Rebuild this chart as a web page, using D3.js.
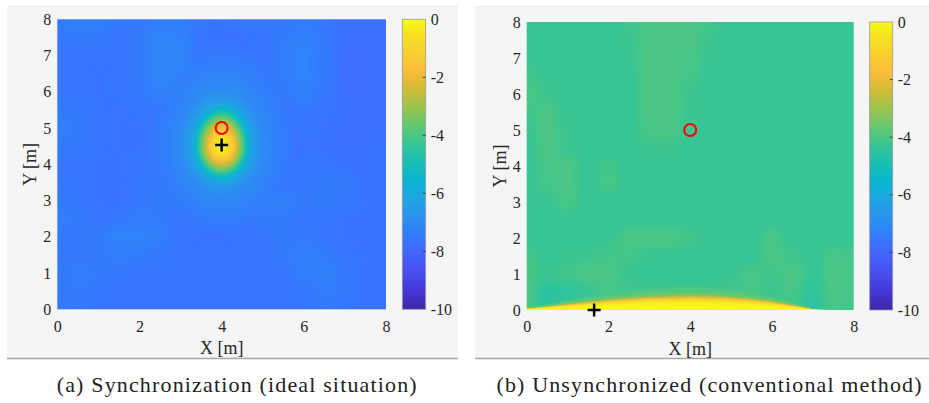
<!DOCTYPE html>
<html>
<head>
<meta charset="utf-8">
<script src="https://cdn.jsdelivr.net/npm/d3@7"></script>
<style>
body { margin: 0; background: #fff; }
</style>
</head>
<body>
<script>
// ---- data ----
var xTicks = [0, 2, 4, 6, 8];
var yTicks = [0, 1, 2, 3, 4, 5, 6, 7, 8];
var cbTicks = [0, -2, -4, -6, -8, -10];

// grid nodes every 0.5 m, rows listed from y = 8 (top) down to y = 0
var gridX = [0, 0.5, 1, 1.5, 2, 2.5, 3, 3.5, 4, 4.5, 5, 5.5, 6, 6.5, 7, 7.5, 8];
var gridY = [8, 7.5, 7, 6.5, 6, 5.5, 5, 4.5, 4, 3.5, 3, 2.5, 2, 1.5, 1, 0.5, 0];

// (a) synchronized: background level
var syncGrid = [
  [-7.5, -7.3, -7.3, -7.5, -7.55, -7.4, -7.4, -7.6, -7.65, -7.6, -7.6, -7.6, -7.5, -7.6, -7.7, -7.75, -7.7],
  [-7.55, -7.45, -7.5, -7.6, -7.45, -7.25, -7.3, -7.6, -7.65, -7.65, -7.6, -7.45, -7.3, -7.5, -7.7, -7.75, -7.7],
  [-7.6, -7.6, -7.6, -7.6, -7.45, -7.2, -7.25, -7.55, -7.6, -7.65, -7.6, -7.4, -7.25, -7.5, -7.75, -7.75, -7.7],
  [-7.6, -7.6, -7.65, -7.6, -7.45, -7.2, -7.3, -7.5, -7.5, -7.6, -7.6, -7.4, -7.25, -7.5, -7.75, -7.75, -7.7],
  [-7.55, -7.6, -7.65, -7.6, -7.5, -7.3, -7.45, -7.55, -7.55, -7.6, -7.6, -7.5, -7.35, -7.55, -7.75, -7.75, -7.7],
  [-7.45, -7.55, -7.6, -7.65, -7.6, -7.55, -7.6, -7.6, -7.6, -7.6, -7.65, -7.6, -7.55, -7.6, -7.7, -7.75, -7.7],
  [-7.35, -7.45, -7.6, -7.65, -7.65, -7.65, -7.6, -7.6, -7.6, -7.6, -7.65, -7.65, -7.6, -7.65, -7.7, -7.7, -7.7],
  [-7.45, -7.55, -7.6, -7.65, -7.65, -7.6, -7.6, -7.6, -7.6, -7.6, -7.6, -7.65, -7.65, -7.65, -7.7, -7.7, -7.65],
  [-7.55, -7.6, -7.65, -7.65, -7.6, -7.6, -7.6, -7.6, -7.6, -7.6, -7.6, -7.65, -7.6, -7.6, -7.65, -7.7, -7.65],
  [-7.55, -7.6, -7.65, -7.65, -7.55, -7.5, -7.55, -7.6, -7.6, -7.6, -7.6, -7.6, -7.55, -7.45, -7.5, -7.65, -7.65],
  [-7.45, -7.55, -7.65, -7.65, -7.55, -7.45, -7.55, -7.6, -7.65, -7.6, -7.3, -7.35, -7.5, -7.45, -7.55, -7.65, -7.65],
  [-7.35, -7.5, -7.6, -7.55, -7.4, -7.45, -7.6, -7.65, -7.65, -7.6, -7.45, -7.5, -7.6, -7.6, -7.65, -7.65, -7.65],
  [-7.5, -7.55, -7.45, -7.25, -7.25, -7.4, -7.6, -7.65, -7.65, -7.6, -7.6, -7.45, -7.5, -7.6, -7.65, -7.65, -7.65],
  [-7.55, -7.55, -7.5, -7.4, -7.45, -7.55, -7.6, -7.6, -7.6, -7.6, -7.6, -7.5, -7.3, -7.45, -7.6, -7.65, -7.65],
  [-7.55, -7.4, -7.45, -7.55, -7.6, -7.6, -7.6, -7.6, -7.6, -7.6, -7.6, -7.6, -7.4, -7.3, -7.55, -7.65, -7.65],
  [-7.5, -7.45, -7.55, -7.6, -7.6, -7.6, -7.6, -7.6, -7.6, -7.6, -7.6, -7.6, -7.55, -7.4, -7.5, -7.65, -7.65],
  [-7.55, -7.55, -7.6, -7.6, -7.6, -7.6, -7.6, -7.6, -7.6, -7.6, -7.6, -7.6, -7.6, -7.55, -7.6, -7.65, -7.65]
];
// (a) main lobe: centre, radii (x, y up, y down) and level against scaled distance
var syncPeakCenter = [4, 4.5];
var syncPeakRadius = [1.0, 1.6, 1.35];
var syncPeakDist = [0, 0.1, 0.2, 0.28, 0.36, 0.44, 0.52, 0.6, 0.68, 0.8, 1.0, 1.3, 1.7, 2.2];
var syncPeakLevel = [0, -0.3, -0.8, -1.5, -2.3, -3.1, -4.0, -5.0, -5.9, -6.5, -7.0, -7.3, -7.55, -8];

// (b) unsynchronized: background level
var unsyncGrid = [
  [-4.3, -4.3, -4.3, -4.3, -4.3, -4.15, -4.0, -4.0, -4.0, -4.15, -4.3, -4.3, -4.3, -4.3, -4.3, -4.3, -4.3],
  [-4.3, -4.3, -4.3, -4.3, -4.3, -4.2, -4.0, -4.0, -4.0, -4.2, -4.3, -4.3, -4.3, -4.3, -4.3, -4.3, -4.3],
  [-4.3, -4.3, -4.3, -4.3, -4.3, -4.25, -4.0, -4.0, -4.05, -4.25, -4.3, -4.3, -4.3, -4.3, -4.3, -4.3, -4.3],
  [-4.1, -4.25, -4.3, -4.3, -4.3, -4.3, -4.0, -4.0, -4.1, -4.3, -4.3, -4.3, -4.3, -4.3, -4.3, -4.3, -4.3],
  [-4.0, -4.2, -4.3, -4.3, -4.3, -4.3, -4.0, -4.0, -4.2, -4.3, -4.3, -4.3, -4.3, -4.3, -4.3, -4.3, -4.3],
  [-4.15, -4.0, -4.25, -4.3, -4.3, -4.3, -4.0, -4.0, -4.2, -4.3, -4.3, -4.3, -4.3, -4.3, -4.3, -4.3, -4.3],
  [-4.25, -4.0, -4.2, -4.3, -4.3, -4.3, -4.05, -4.0, -4.25, -4.3, -4.3, -4.3, -4.3, -4.3, -4.3, -4.3, -4.3],
  [-4.3, -4.0, -4.2, -4.3, -4.3, -4.3, -4.2, -4.2, -4.3, -4.3, -4.3, -4.3, -4.3, -4.3, -4.3, -4.3, -4.3],
  [-4.3, -4.05, -4.0, -4.3, -4.1, -4.3, -4.3, -4.3, -4.3, -4.3, -4.3, -4.3, -4.3, -4.3, -4.3, -4.3, -4.3],
  [-4.3, -4.1, -4.0, -4.3, -4.05, -4.3, -4.3, -4.3, -4.3, -4.3, -4.3, -4.3, -4.3, -4.3, -4.3, -4.3, -4.3],
  [-4.3, -4.25, -4.05, -4.3, -4.3, -4.3, -4.3, -4.3, -4.3, -4.3, -4.3, -4.3, -4.3, -4.3, -4.3, -4.3, -4.3],
  [-4.3, -4.3, -4.3, -4.3, -4.3, -4.3, -4.3, -4.3, -4.3, -4.3, -4.3, -4.3, -4.3, -4.3, -4.3, -4.3, -4.3],
  [-4.3, -4.3, -4.3, -4.3, -4.25, -4.0, -4.0, -4.0, -4.1, -4.3, -4.3, -4.3, -4.05, -4.3, -4.3, -4.3, -4.3],
  [-4.1, -4.3, -4.25, -4.2, -4.1, -4.1, -4.25, -4.3, -4.3, -4.3, -4.3, -4.3, -4.0, -4.15, -4.3, -4.05, -4.1],
  [-4.05, -4.25, -4.1, -4.0, -4.0, -4.25, -4.3, -4.3, -4.3, -4.3, -4.25, -4.05, -4.15, -4.0, -4.3, -4.0, -4.05],
  [-4.0, -4.55, -4.45, -4.3, -4.05, -4.15, -4.2, -4.2, -4.2, -4.2, -4.15, -4.05, -4.2, -4.05, -4.45, -4.0, -4.1],
  [-4.05, -4.45, -4.4, -4.3, -4.3, -4.3, -4.3, -4.3, -4.3, -4.3, -4.3, -4.3, -4.3, -4.25, -4.5, -4.05, -4.15]
];
// (b) bright arc along y = 0: height of the arc at each x, level against y / height
var unsyncArcX = [0, 0.5, 1, 1.5, 2, 2.5, 3, 3.5, 4, 4.5, 5, 5.5, 6, 6.5, 7, 7.5, 8];
var unsyncArcHeight = [0.05, 0.11, 0.18, 0.25, 0.31, 0.36, 0.4, 0.42, 0.43, 0.42, 0.39, 0.34, 0.26, 0.15, 0.03, 0, 0];
var unsyncArcT = [0, 0.45, 0.6, 0.72, 0.82, 0.9, 1.0, 1.2, 1.5, 1.8];
var unsyncArcLevel = [0, -0.15, -0.6, -1.3, -2.1, -2.9, -3.5, -3.85, -4.1, -10];

var truePos = [4, 5];
var syncEstimate = [4, 4.53];
var unsyncEstimate = [1.65, 0];

// parula anchors (value on colour axis, rgb)
var parulaValues = [-10, -9.365, -8.73, -8.095, -7.778, -7.46, -6.825, -6.19, -5.556, -4.921, -4.286, -3.651, -3.016, -2.381, -1.746, -1.111, -0.476, 0];
var parulaColors = [
  [0.2422, 0.1504, 0.6603], [0.2706, 0.2147, 0.8364], [0.2813, 0.3006, 0.9414], [0.2699, 0.3892, 0.9906],
  [0.2440, 0.4358, 0.9988], [0.1963, 0.4847, 0.9892], [0.1687, 0.5703, 0.9359], [0.1248, 0.6459, 0.8883],
  [0.0297, 0.7082, 0.8163], [0.0964, 0.7461, 0.7113], [0.2161, 0.7722, 0.5848], [0.3909, 0.7843, 0.4409],
  [0.6174, 0.7641, 0.3004], [0.8203, 0.7367, 0.2041], [0.9900, 0.7400, 0.2400], [0.9700, 0.8200, 0.1800],
  [0.9600, 0.8900, 0.1300], [0.9769, 0.9839, 0.0805]
].map(function(c) { return d3.rgb(c[0] * 255, c[1] * 255, c[2] * 255).toString(); });

var serif = '"Liberation Serif", "Times New Roman", Times, serif';

var color = d3.scaleLinear()
  .domain(parulaValues)
  .range(parulaColors)
  .interpolate(d3.interpolateRgb)
  .clamp(true);

// lookup table so the per-pixel loop stays cheap
var lut = d3.range(0, 1001).map(function(i) { return d3.rgb(color(-10 + i / 100)); });

var svg = d3.select('body').append('svg')
  .attr('width', 929)
  .attr('height', 403)
  .attr('font-family', serif);

function smooth(t) { return t * t * (3 - 2 * t); }

function gridValue(grid, x, y) {
  var c = Math.max(0, Math.min(gridX.length - 1.0001, x / 0.5));
  var r = Math.max(0, Math.min(gridY.length - 1.0001, (8 - y) / 0.5));
  var c0 = Math.floor(c), r0 = Math.floor(r);
  var fx = smooth(c - c0), fy = smooth(r - r0);
  var top = grid[r0][c0] * (1 - fx) + grid[r0][c0 + 1] * fx;
  var bot = grid[r0 + 1][c0] * (1 - fx) + grid[r0 + 1][c0 + 1] * fx;
  return top * (1 - fy) + bot * fy;
}

var peakLevel = d3.scaleLinear().domain(syncPeakDist).range(syncPeakLevel).clamp(true);
function syncField(x, y) {
  var dx = (x - syncPeakCenter[0]) / syncPeakRadius[0];
  var dy = (y - syncPeakCenter[1]) / (y > syncPeakCenter[1] ? syncPeakRadius[1] : syncPeakRadius[2]);
  return Math.max(gridValue(syncGrid, x, y), peakLevel(Math.sqrt(dx * dx + dy * dy)));
}

var arcHeight = d3.scaleLinear().domain(unsyncArcX).range(unsyncArcHeight).clamp(true);
var arcLevel = d3.scaleLinear().domain(unsyncArcT).range(unsyncArcLevel).clamp(true);
function unsyncField(x, y) {
  var h = arcHeight(x);
  var bg = gridValue(unsyncGrid, x, y);
  if (h < 0.005) return bg;
  return Math.max(bg, arcLevel(y / h));
}

var panels = [
  {bg: [7, 5, 458, 358.5], plot: [57.3, 19.3, 386, 309.3], cb: [402.3, 425.7],
   field: syncField, est: syncEstimate,
   caption: '(a) Synchronization (ideal situation)', capX: 236.7, capW: 360},
  {bg: [475, 5, 929, 358.5], plot: [526.7, 22, 853.7, 310], cb: [869.7, 892.7],
   field: unsyncField, est: unsyncEstimate,
   caption: '(b) Unsynchronized (conventional method)', capX: 709, capW: 425}
];

function styleAxisText(a) {
  a.attr('font-family', serif).attr('font-size', 16);
  a.select('.domain').remove();
  a.selectAll('text')
    .attr('fill', '#262626')
    .style('font-family', serif)
    .style('font-size', '16px');
}

panels.forEach(function(p) {
  var g = svg.append('g');

  g.append('rect')
    .attr('x', p.bg[0]).attr('y', p.bg[1])
    .attr('width', p.bg[2] - p.bg[0]).attr('height', p.bg[3] - p.bg[1])
    .attr('fill', '#f5f5f5');
  g.append('line')
    .attr('x1', p.bg[0]).attr('x2', p.bg[2])
    .attr('y1', p.bg[3]).attr('y2', p.bg[3])
    .attr('stroke', '#a8a8a2').attr('stroke-width', 1.5);

  var x = d3.scaleLinear().domain([0, 8]).range([p.plot[0], p.plot[2]]);
  var y = d3.scaleLinear().domain([0, 8]).range([p.plot[3], p.plot[1]]);

  // heat map, one canvas pixel per screen pixel
  var w = Math.round(p.plot[2] - p.plot[0]);
  var h = Math.round(p.plot[3] - p.plot[1]);
  var canvas = document.createElement('canvas');
  canvas.width = w; canvas.height = h;
  var ctx = canvas.getContext('2d');
  var img = ctx.createImageData(w, h);
  for (var j = 0; j < h; j++) {
    var ym = y.invert(p.plot[1] + (j + 0.5) * (p.plot[3] - p.plot[1]) / h);
    for (var i = 0; i < w; i++) {
      var xm = x.invert(p.plot[0] + (i + 0.5) * (p.plot[2] - p.plot[0]) / w);
      var v = p.field(xm, ym);
      var c = lut[Math.max(0, Math.min(1000, Math.round((v + 10) * 100)))];
      var k = (j * w + i) * 4;
      img.data[k] = c.r; img.data[k + 1] = c.g; img.data[k + 2] = c.b; img.data[k + 3] = 255;
    }
  }
  ctx.putImageData(img, 0, 0);
  g.append('image')
    .attr('x', p.plot[0]).attr('y', p.plot[1])
    .attr('width', p.plot[2] - p.plot[0]).attr('height', p.plot[3] - p.plot[1])
    .attr('preserveAspectRatio', 'none')
    .attr('href', canvas.toDataURL());

  // axes
  var xAxis = g.append('g')
    .attr('transform', 'translate(0,' + p.plot[3] + ')')
    .call(d3.axisBottom(x).tickValues(xTicks).tickSize(0).tickPadding(11).tickFormat(d3.format('d')));
  var yAxis = g.append('g')
    .attr('transform', 'translate(' + p.plot[0] + ',0)')
    .call(d3.axisLeft(y).tickValues(yTicks).tickSize(0).tickPadding(6).tickFormat(d3.format('d')));
  styleAxisText(xAxis);
  styleAxisText(yAxis);

  g.append('text')
    .attr('x', (p.plot[0] + p.plot[2]) / 2).attr('y', p.plot[3] + 45)
    .attr('text-anchor', 'middle')
    .attr('fill', '#262626')
    .style('font-family', serif)
    .style('font-size', '18px')
    .text('X [m]');
  g.append('text')
    .attr('transform', 'translate(' + (p.plot[0] - 21) + ',' + ((p.plot[1] + p.plot[3]) / 2) + ')rotate(-90)')
    .attr('text-anchor', 'middle')
    .attr('fill', '#262626')
    .style('font-family', serif)
    .style('font-size', '18px')
    .text('Y [m]');

  // markers
  g.append('circle')
    .attr('cx', x(truePos[0])).attr('cy', y(truePos[1]))
    .attr('r', 6)
    .attr('fill', 'none').attr('stroke', '#ff0000').attr('stroke-width', 2);
  g.append('path')
    .attr('d', 'M' + (x(p.est[0]) - 6.5) + ',' + y(p.est[1]) + 'h13M' + x(p.est[0]) + ',' + (y(p.est[1]) - 6.5) + 'v13')
    .attr('stroke', '#000').attr('stroke-width', 2.5);

  // colour bar
  var cb = d3.scaleLinear().domain([-10, 0]).range([p.plot[3], p.plot[1]]);
  var gradId = 'grad' + Math.round(p.capX);
  var grad = svg.append('defs').append('linearGradient')
    .attr('id', gradId).attr('x1', 0).attr('x2', 0).attr('y1', 1).attr('y2', 0);
  d3.range(0, 101).forEach(function(i) {
    grad.append('stop').attr('offset', i / 100).attr('stop-color', color(-10 + i / 10));
  });
  g.append('rect')
    .attr('x', p.cb[0]).attr('y', p.plot[1])
    .attr('width', p.cb[1] - p.cb[0]).attr('height', p.plot[3] - p.plot[1])
    .attr('fill', 'url(#' + gradId + ')')
    .attr('stroke', '#9a9a9a').attr('stroke-width', 0.8);
  g.selectAll('.cbtick').data(cbTicks.slice(1, -1)).enter().append('line')
    .attr('x1', p.cb[1] - 3).attr('x2', p.cb[1])
    .attr('y1', function(d) { return cb(d); }).attr('y2', function(d) { return cb(d); })
    .attr('stroke', '#444').attr('stroke-width', 1);
  var cAxis = g.append('g')
    .attr('transform', 'translate(' + p.cb[1] + ',0)')
    .call(d3.axisRight(cb).tickValues(cbTicks).tickSize(0).tickPadding(5).tickFormat(function(d) { return String(d); }));
  styleAxisText(cAxis);

  // caption
  g.append('text')
    .attr('x', p.capX).attr('y', 392)
    .attr('text-anchor', 'middle')
    .attr('textLength', p.capW).attr('lengthAdjust', 'spacing')
    .attr('fill', '#222')
    .style('font-family', serif)
    .style('font-size', '22px')
    .text(p.caption);
});
</script>
</body>
</html>
